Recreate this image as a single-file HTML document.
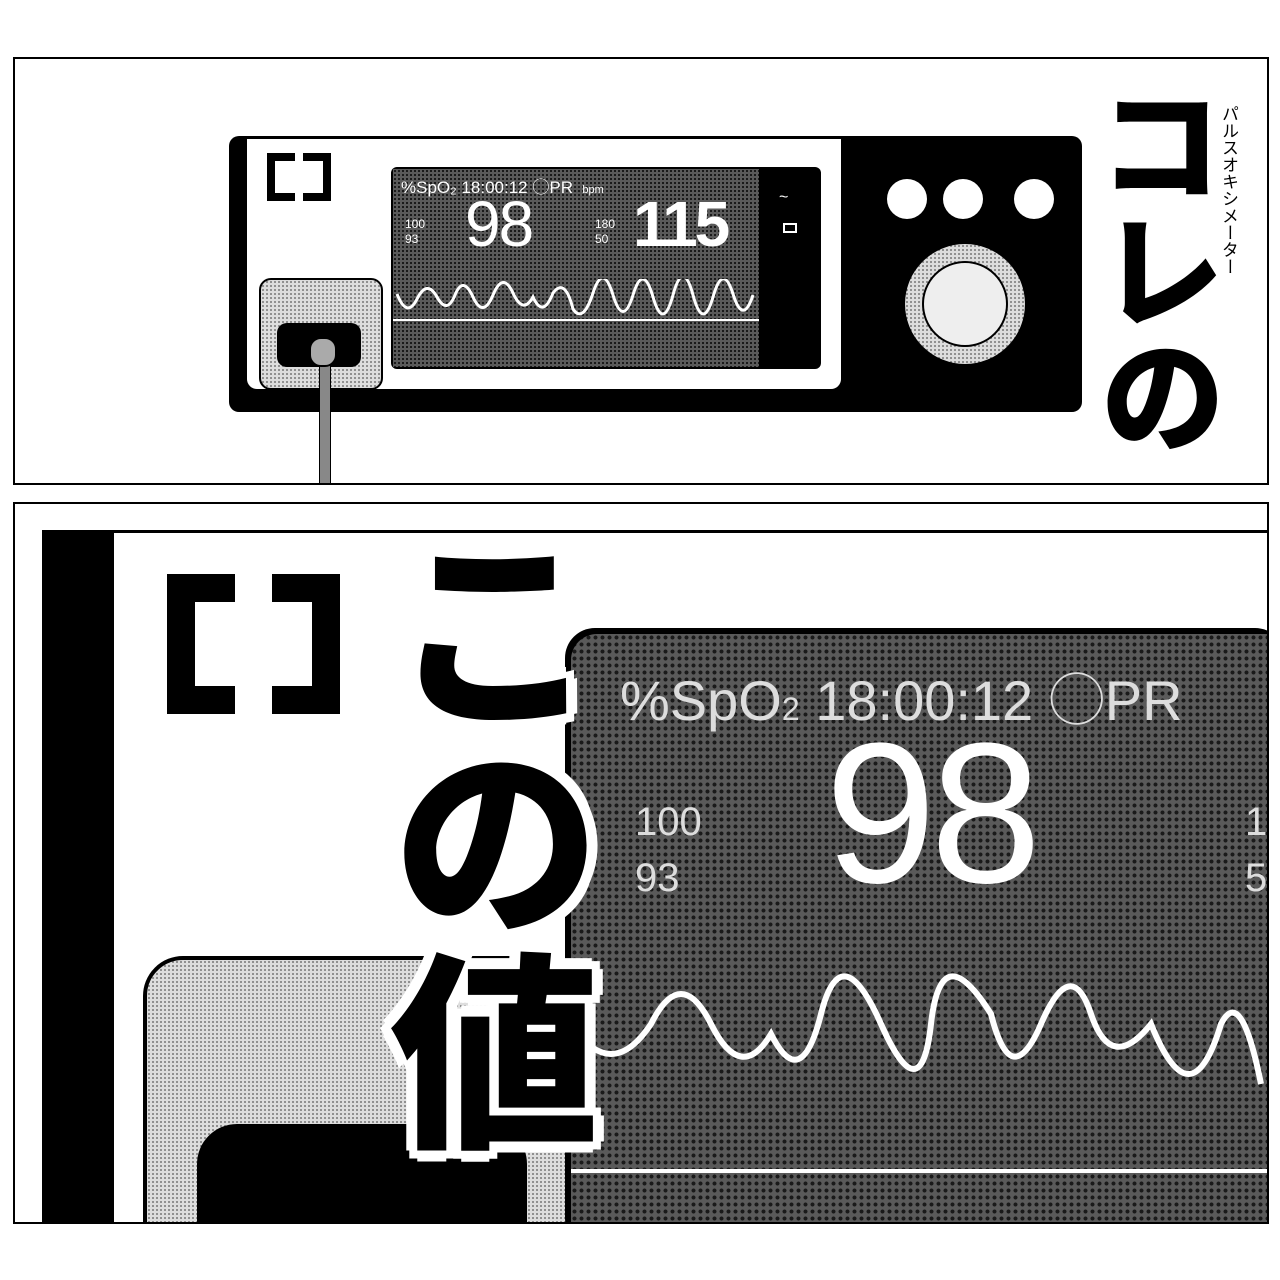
<!DOCTYPE html>
<html><head><meta charset="utf-8"><style>
body{margin:0;width:1280px;height:1280px;background:#fff;position:relative;overflow:hidden;font-family:"Liberation Sans","Noto Sans CJK JP",sans-serif}
.a{position:absolute}
.dots{background-color:#5a5a5a;background-image:radial-gradient(#1a1a1a 38%,transparent 42%);background-size:4px 4px}
.ldots{background-color:#ddd;background-image:radial-gradient(#777 30%,transparent 35%);background-size:4px 4px}
.jp{font-family:"Noto Sans CJK JP",sans-serif;font-weight:900}
</style></head><body>
<!-- panel 1 -->
<div class="a" style="left:13px;top:57px;width:1252px;height:424px;border:2px solid #000;overflow:hidden">
 <div class="a" style="left:214px;top:77px;width:853px;height:276px;background:#000;border-radius:10px"></div>
 <div class="a" style="left:232px;top:80px;width:594px;height:250px;background:#fff;border-radius:0 0 10px 10px"></div>
 <div class="a" style="left:252px;top:94px;width:20px;height:32px;border:8px solid #000;border-right:none"></div>
 <div class="a" style="left:288px;top:94px;width:20px;height:32px;border:8px solid #000;border-left:none"></div>
 <div class="a" style="left:376px;top:108px;width:430px;height:202px;background:#000;border-radius:6px"></div>
 <div class="a dots" style="left:378px;top:110px;width:366px;height:198px"></div>
 <div class="a" style="left:386px;top:114px;color:#fff;font-size:17px">%SpO₂ 18:00:12 ◯PR &nbsp;<span style="font-size:11px">bpm</span></div>
 <div class="a" style="left:450px;top:128px;color:#fff;font-size:64px;letter-spacing:-2px">98</div>
 <div class="a" style="left:618px;top:128px;color:#fff;font-size:64px;font-weight:bold;letter-spacing:-3px">115</div>
 <div class="a" style="left:390px;top:158px;color:#fff;font-size:12px;line-height:15px">100<br>93</div>
 <div class="a" style="left:580px;top:158px;color:#fff;font-size:12px;line-height:15px">180<br>50</div>
 <svg class="a" style="left:378px;top:220px" width="366" height="50"><path d="M4 15 Q14 40 24 20 T44 18 T62 16 T80 18 T100 16 T120 14 T140 18 Q150 40 160 14 Q172 -2 180 30 Q190 45 200 14 T220 16 T240 16 T260 18 T280 16 T300 16 T320 18 T340 15 T360 16" stroke="#fff" stroke-width="3" fill="none"/><line x1="0" y1="41" x2="366" y2="41" stroke="#fff" stroke-width="2"/></svg>
 <div class="a" style="left:764px;top:130px;color:#fff;font-size:16px">~</div>
 <div class="a" style="left:768px;top:164px;width:10px;height:6px;border:2px solid #fff"></div>
 <div class="a ldots" style="left:244px;top:219px;width:120px;height:108px;border:2px solid #000;border-radius:12px"></div>
 <div class="a" style="left:262px;top:264px;width:84px;height:44px;background:#000;border-radius:10px"></div>
 <div class="a" style="left:304px;top:278px;width:10px;height:150px;background:#888;border:1px solid #000"></div>
 <div class="a" style="left:294px;top:278px;width:24px;height:26px;background:#aaa;border:2px solid #000;border-radius:12px"></div>
 <div class="a" style="left:872px;top:120px;width:40px;height:40px;border-radius:50%;background:#fff"></div>
 <div class="a" style="left:928px;top:120px;width:40px;height:40px;border-radius:50%;background:#fff"></div>
 <div class="a" style="left:999px;top:120px;width:40px;height:40px;border-radius:50%;background:#fff"></div>
 <div class="a ldots" style="left:890px;top:185px;width:120px;height:120px;border-radius:50%"></div>
 <div class="a" style="left:907px;top:202px;width:82px;height:82px;border-radius:50%;background:#eee;border:2px solid #000"></div>
 <div class="a jp" style="left:1080px;top:22px;width:130px;font-size:126px;line-height:126px;writing-mode:vertical-rl">コレの</div>
 <div class="a" style="left:1205px;top:46px;font-size:17px;line-height:20px;writing-mode:vertical-rl;font-family:'Noto Sans CJK JP',sans-serif">パルスオキシメーター</div>
</div>
<!-- panel 2 -->
<div class="a" style="left:13px;top:502px;width:1252px;height:718px;border:2px solid #000;overflow:hidden">
 <div class="a" style="left:27px;top:26px;width:72px;height:720px;background:#000"></div>
 <div class="a" style="left:99px;top:26px;width:1160px;height:720px;background:#fff;border-top:3px solid #000"></div>
 <div class="a" style="left:152px;top:70px;width:40px;height:84px;border:28px solid #000;border-right:none"></div>
 <div class="a" style="left:257px;top:70px;width:40px;height:84px;border:28px solid #000;border-left:none"></div>
 <div class="a ldots" style="left:128px;top:452px;width:420px;height:300px;border:4px solid #000;border-radius:40px"></div>
 <div class="a" style="left:182px;top:620px;width:330px;height:200px;background:#000;border-radius:40px"></div>
 <div class="a" style="left:550px;top:124px;width:720px;height:620px;background:#000;border-radius:30px"></div>
 <div class="a dots" style="left:556px;top:130px;width:720px;height:620px;border-radius:26px;background-size:7px 7px"></div>
 <div class="a" style="left:605px;top:152px;color:#ddd;font-size:56px;white-space:nowrap">%SpO<span style="font-size:32px">2</span> 18:00:12 ◯PR</div>
 <div class="a" style="left:810px;top:210px;color:#fff;font-size:200px;line-height:200px;letter-spacing:-6px">98</div>
 <div class="a" style="left:620px;top:290px;color:#ddd;font-size:40px;line-height:56px">100<br>93</div>
 <div class="a" style="left:1230px;top:290px;color:#ddd;font-size:40px;line-height:56px">18<br>50</div>
 <svg class="a" style="left:556px;top:460px" width="720" height="220"><path d="M0 60 Q40 120 80 60 Q110 0 140 60 T200 70 Q230 130 250 50 T310 60 T360 60 T420 50 Q440 130 470 60 T520 50 T580 60 Q620 160 650 60 Q670 20 690 120" stroke="#fff" stroke-width="6" fill="none"/><line x1="0" y1="207" x2="720" y2="207" stroke="#fff" stroke-width="4"/></svg>
 <div class="a jp" style="left:345px;top:22px;width:250px;font-size:210px;line-height:230px;writing-mode:vertical-rl;color:#000;text-shadow:6px 0 #fff,-6px 0 #fff,0 6px #fff,0 -6px #fff,5px 5px #fff,-5px 5px #fff,5px -5px #fff,-5px -5px #fff,11px 0 #fff,-11px 0 #fff,0 11px #fff,0 -11px #fff,8px 8px #fff,-8px 8px #fff,8px -8px #fff,-8px -8px #fff">この値</div>
</div>
</body></html>
